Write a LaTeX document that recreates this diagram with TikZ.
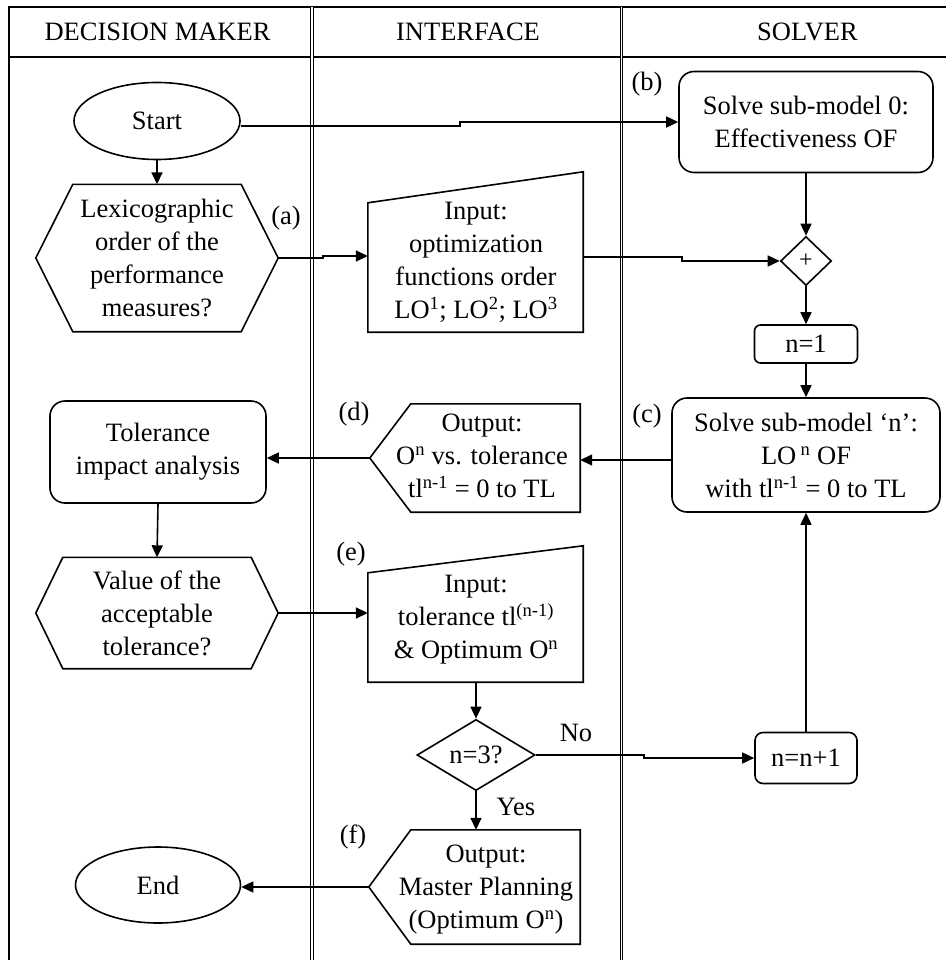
\documentclass[tikz,border=0pt]{standalone}
\usepackage{fontspec}
\setmainfont{Liberation Serif}
\usetikzlibrary{shapes.geometric,arrows.meta,calc}
\begin{document}
\begin{tikzpicture}[x=1pt,y=-1pt,
  every node/.style={font=\fontsize{26.5pt}{33pt}\selectfont, inner sep=0pt, align=center},
  ln/.style={line width=1.6pt},
  arr/.style={ln, -{Triangle[length=12pt,width=11pt]}},
  rbox/.style={draw, ln, rounded corners=15pt},
  dbl/.style={line width=1.1pt, double=white, double distance=1.6pt},
  plain/.style={draw=none}]
\useasboundingbox (0,0) rectangle (946,960);
% frame
\draw[ln] (9,960) -- (9,7) -- (946,7);
\draw[line width=2.8pt] (9,57) -- (946,57);
\draw[dbl] (312,7) -- (312,960);
\draw[dbl] (621.5,7) -- (621.5,960);
% headers
\node (hdm) at (157.5,32) {DECISION MAKER};
\node (hif) at (468,32) {INTERFACE};
\node (hsv) at (807.5,32) {SOLVER};
% decision maker column
\node[draw, ln, ellipse, minimum width=166pt, minimum height=77pt] (start) at (157,121) {Start};
\node[minimum width=242pt, minimum height=147pt] (hex1) at (157,258) {Lexicographic\\order of the\\performance\\measures?};
\draw[ln] (hex1.west) -- ($(hex1.north west)+(37,0)$) -- ($(hex1.north east)+(-37,0)$) -- (hex1.east) -- ($(hex1.south east)+(-37,0)$) -- ($(hex1.south west)+(37,0)$) -- cycle;
\node[rbox, minimum width=216pt, minimum height=102pt] (tol) at (158,452) {Tolerance\\impact analysis};
\node[minimum width=242pt, minimum height=111pt] (hex2) at (157,613) {Value of the\\acceptable\\tolerance?};
\draw[ln] (hex2.west) -- ($(hex2.north west)+(27,0)$) -- ($(hex2.north east)+(-27,0)$) -- (hex2.east) -- ($(hex2.south east)+(-27,0)$) -- ($(hex2.south west)+(27,0)$) -- cycle;
\node[draw, ln, ellipse, minimum width=165pt, minimum height=76pt] (end) at (158,885) {End};
% interface column
\node[minimum width=215pt, minimum height=160pt] (inp1) at (475.5,252) {};
\draw[ln] ($(inp1.north west)+(0,31)$) -- (inp1.north east) -- (inp1.south east) -- (inp1.south west) -- cycle;
\node (inp1t) at (476,262) {Input:\\optimization\\functions order\\LO\textsuperscript{1}; LO\textsuperscript{2}; LO\textsuperscript{3}};
\node[minimum width=210pt, minimum height=108pt] (outd) at (475,458) {};
\draw[ln] (outd.west) -- ($(outd.north west)+(41,0)$) -- (outd.north east) -- (outd.south east) -- ($(outd.south west)+(41,0)$) -- cycle;
\node (outdt) at (482,456) {Output:\\O\textsuperscript{n} vs. tolerance\\tl\textsuperscript{n-1} = 0 to TL};
\node[minimum width=215pt, minimum height=136pt] (inp2) at (475.5,614) {};
\draw[ln] ($(inp2.north west)+(0,27)$) -- (inp2.north east) -- (inp2.south east) -- (inp2.south west) -- cycle;
\node (inp2t) at (476,620) {Input:\\tolerance tl\textsuperscript{(n-1)}\\\& Optimum O\textsuperscript{n}};
\node[draw, ln, diamond, minimum width=118pt, minimum height=63pt] (q) at (476,755) {n=3?};
\node[minimum width=211pt, minimum height=114pt] (outf) at (474.5,887) {};
\draw[ln] (outf.west) -- ($(outf.north west)+(42,0)$) -- (outf.north east) -- (outf.south east) -- ($(outf.south west)+(42,0)$) -- cycle;
\node (outft) at (486,890) {Output:\\Master Planning\\(Optimum O\textsuperscript{n})};
% solver column
\node[rbox, minimum width=254pt, minimum height=101pt] (box0) at (806,122) {Solve sub-model 0:\\Effectiveness OF};
\node[draw, ln, diamond, minimum width=51pt, minimum height=49pt] (plus) at (806,261) {\fontsize{24pt}{24pt}\selectfont +};
\node[draw, ln, rounded corners=6pt, minimum width=103pt, minimum height=38pt] (n1) at (806,344) {n=1};
\node[rbox, minimum width=268pt, minimum height=114pt] (solven) at (806,455) {Solve sub-model `n':\\LO\,\textsuperscript{n} OF\\with tl\textsuperscript{n-1} = 0 to TL};
\node[draw, ln, rounded corners=8pt, minimum width=102pt, minimum height=51pt] (nn1) at (806,758) {n=n+1};
% labels
\node (la) at (286,218) {(a)};
\node (lb) at (647,84) {(b)};
\node (lc) at (647,416) {(c)};
\node (ld) at (354,414) {(d)};
\node (le) at (351,554) {(e)};
\node (lf) at (353,837) {(f)};
\node (lno) at (576,733) {No};
\node (lyes) at (516,807) {Yes};
% connectors
\draw[arr] ($(start.east)+(0,5)$) -- ++(219,0) |- (box0.west);
\draw[arr] (start.south) -- (hex1.north);
\draw[arr] (hex1.east) -- ++(45,0) |- ($(inp1.west)+(0,4)$);
\draw[arr] ($(inp1.east)+(0,5)$) -- ++(99,0) |- (plus.west);
\draw[arr] (box0.south) -- (plus.north);
\draw[arr] (plus.south) -- (n1.north);
\draw[arr] (n1.south) -- (solven.north);
\draw[arr] ($(solven.west)+(0,5)$) -- ($(outd.east)+(0,2)$);
\draw[arr] (outd.west) -- (outd.west -| tol.east);
\draw[arr] (tol.south) -- (hex2.north);
\draw[arr] (hex2.east) -- (hex2.east -| inp2.west);
\draw[arr] (inp2.south -| q.north) -- (q.north);
\draw[arr] (q.east) -- ++(108,0) |- (nn1.west);
\draw[arr] (nn1.north) -- (solven.south);
\draw[arr] (q.south) -- (q.south |- outf.north);
\draw[arr] (outf.west) -- (outf.west -| end.east);
\end{tikzpicture}
\end{document}
